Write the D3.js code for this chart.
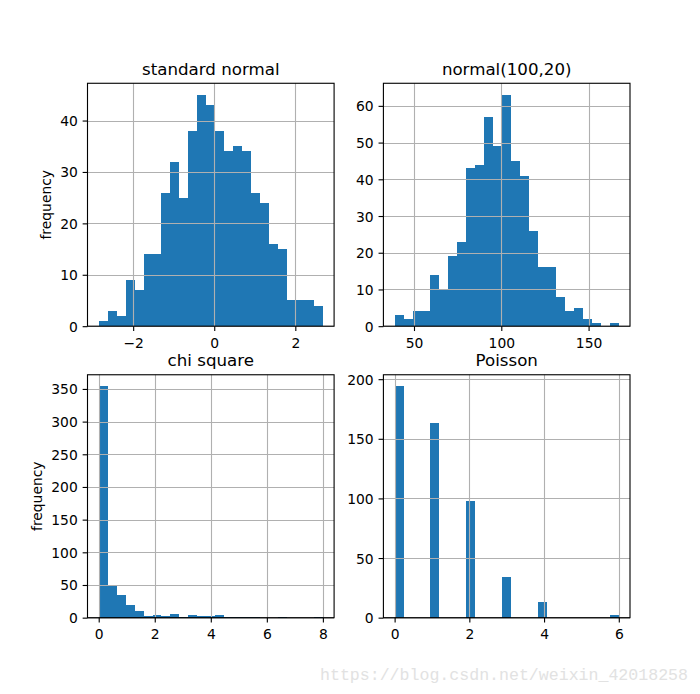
<!DOCTYPE html>
<html>
<head>
<meta charset="utf-8">
<script src="https://cdn.jsdelivr.net/npm/d3@7"></script>
<style>
  html, body { margin: 0; padding: 0; background: #fff; }
  svg { display: block; }
</style>
</head>
<body>
<svg id="chart" width="700" height="694"></svg>
<script>
// ---------- data ----------
const titles = ["standard normal", "normal(100,20)", "chi square", "Poisson"];

const stdNormalRange = [-2.85, 2.68];
const stdNormalCounts = [1, 3, 2, 9, 7, 14, 14, 26, 32, 25, 38, 45, 43, 38, 34, 35, 34, 26, 24, 16, 15, 5, 5, 5, 4];

const normal100Range = [38.9, 167.3];
const normal100Counts = [3, 2, 4, 4, 14, 10, 19, 23, 43, 44, 57, 49, 63, 45, 41, 26, 16, 16, 8, 4, 5, 2, 1, 0, 1];

const chiSquareRange = [0.0, 8.0];
const chiSquareCounts = [354, 49, 35, 19, 10, 2, 4, 2, 5, 1, 4, 2, 3, 4, 1, 1, 1, 1, 0, 0, 1, 0, 0, 0, 1];

const poissonRange = [0, 6];
const poissonCounts = [194, 0, 0, 0, 163, 0, 0, 0, 98, 0, 0, 0, 34, 0, 0, 0, 13, 0, 0, 0, 0, 0, 0, 0, 2];

const xTicks = [[-2, 0, 2], [50, 100, 150], [0, 2, 4, 6, 8], [0, 2, 4, 6]];
const yTicks = [[0, 10, 20, 30, 40], [0, 10, 20, 30, 40, 50, 60], [0, 50, 100, 150, 200, 250, 300, 350], [0, 50, 100, 150, 200]];
const yLabels = ["frequency", "", "frequency", ""];
const watermark = "https://blog.csdn.net/weixin_42018258";

// ---------- layout ----------
const W = 700, H = 694;
const figL = 0.125 * W, figR = 0.9 * W, figT = 0.12 * H, figB = 0.89 * H;
const aw = (figR - figL) / 2.2, ah = (figB - figT) / 2.2;
const cols = [figL, figL + aw * 1.2];
const rows = [figT, figT + ah * 1.2];

const panels = [
  { range: stdNormalRange, counts: stdNormalCounts, col: 0, row: 0 },
  { range: normal100Range, counts: normal100Counts, col: 1, row: 0 },
  { range: chiSquareRange, counts: chiSquareCounts, col: 0, row: 1 },
  { range: poissonRange, counts: poissonCounts, col: 1, row: 1 }
];

const svg = d3.select("#chart");
const FONT = "'DejaVu Sans', sans-serif";
const barColor = "#1f77b4";
const gridColor = "#b0b0b0";
const lw = 0.8 * 100 / 72; // 0.8pt
const tickLen = 3.5 * 100 / 72;
const tickPad = 3.5 * 100 / 72;
const tickFs = 10 * 100 / 72;
const titleFs = 12 * 100 / 72;

panels.forEach((p, i) => {
  const x0 = cols[p.col], y0 = rows[p.row];
  const n = p.counts.length;
  const [lo, hi] = p.range;
  const bw = (hi - lo) / n;
  const span = hi - lo;
  const ymax = d3.max(p.counts) * 1.05;

  const x = d3.scaleLinear().domain([lo - 0.05 * span, hi + 0.05 * span]).range([x0, x0 + aw]);
  const y = d3.scaleLinear().domain([0, ymax]).range([y0 + ah, y0]);

  const g = svg.append("g");

  // bars (snapped to the pixel grid, like matplotlib)
  const bins = p.counts.map((c, k) => ({ a: lo + k * bw, b: lo + (k + 1) * bw, c }));
  const sx = v => Math.round(x(v));
  const sy = v => Math.round(y(v));
  g.selectAll("rect.bar").data(bins.filter(d => d.c > 0)).enter().append("rect")
    .attr("class", "bar")
    .attr("x", d => sx(d.a))
    .attr("width", d => sx(d.b) - sx(d.a))
    .attr("y", d => Math.min(sy(d.c), sy(0) - 1))
    .attr("height", d => sy(0) - Math.min(sy(d.c), sy(0) - 1))
    .attr("fill", barColor)
    .attr("shape-rendering", "crispEdges");

  // grid
  g.selectAll("line.gx").data(xTicks[i]).enter().append("line")
    .attr("x1", d => Math.round(x(d)) + 0.5).attr("x2", d => Math.round(x(d)) + 0.5)
    .attr("y1", y0).attr("y2", y0 + ah)
    .attr("stroke", gridColor).attr("stroke-width", lw);
  g.selectAll("line.gy").data(yTicks[i]).enter().append("line")
    .attr("y1", d => Math.round(y(d)) + 0.5).attr("y2", d => Math.round(y(d)) + 0.5)
    .attr("x1", x0).attr("x2", x0 + aw)
    .attr("stroke", gridColor).attr("stroke-width", lw);

  // axes
  const fmt = d => (d < 0 ? "\u2212" + Math.abs(d) : String(d));
  const xAxis = d3.axisBottom(x).tickValues(xTicks[i]).tickSize(tickLen).tickPadding(tickPad).tickFormat(fmt);
  const yAxis = d3.axisLeft(y).tickValues(yTicks[i]).tickSize(tickLen).tickPadding(tickPad).tickFormat(fmt);

  const gx = g.append("g").attr("transform", `translate(0,${y0 + ah})`).call(xAxis);
  const gy = g.append("g").attr("transform", `translate(${x0},0)`).call(yAxis);
  [gx, gy].forEach(a => {
    a.select(".domain").remove();
    a.selectAll(".tick line").attr("stroke", "#000").attr("stroke-width", lw);
    a.selectAll(".tick text").attr("fill", "#000").attr("font-family", FONT).attr("font-size", tickFs);
  });
  gx.selectAll(".tick text").attr("dy", null).attr("y", 21.5);
  gy.selectAll(".tick text").attr("dy", "0.36em").attr("x", -(tickLen + tickPad));

  // spines
  g.append("rect")
    .attr("x", x0).attr("y", y0).attr("width", aw).attr("height", ah)
    .attr("fill", "none").attr("stroke", "#000").attr("stroke-width", lw);

  // title
  g.append("text")
    .attr("x", x0 + aw / 2).attr("y", y0 - 8.6)
    .attr("text-anchor", "middle")
    .attr("font-family", FONT).attr("font-size", titleFs).attr("fill", "#000")
    .text(titles[i]);

  // y label
  if (yLabels[i]) {
    let maxW = 0;
    gy.selectAll(".tick text").each(function () { maxW = Math.max(maxW, this.getComputedTextLength()); });
    const lx = x0 - tickLen - tickPad - maxW - 5.56 - 3.3;
    g.append("text")
      .attr("transform", `translate(${lx},${y0 + ah / 2}) rotate(-90)`)
      .attr("text-anchor", "middle")
      .attr("font-family", FONT).attr("font-size", tickFs).attr("fill", "#000")
      .text(yLabels[i]);
  }
});

// watermark
svg.append("text")
  .attr("x", 320).attr("y", 680)
  .attr("font-family", "'Liberation Mono', monospace")
  .attr("font-size", 16.6)
  .attr("textLength", 368)
  .attr("fill", "#e2e2e2")
  .text(watermark);
</script>
</body>
</html>
